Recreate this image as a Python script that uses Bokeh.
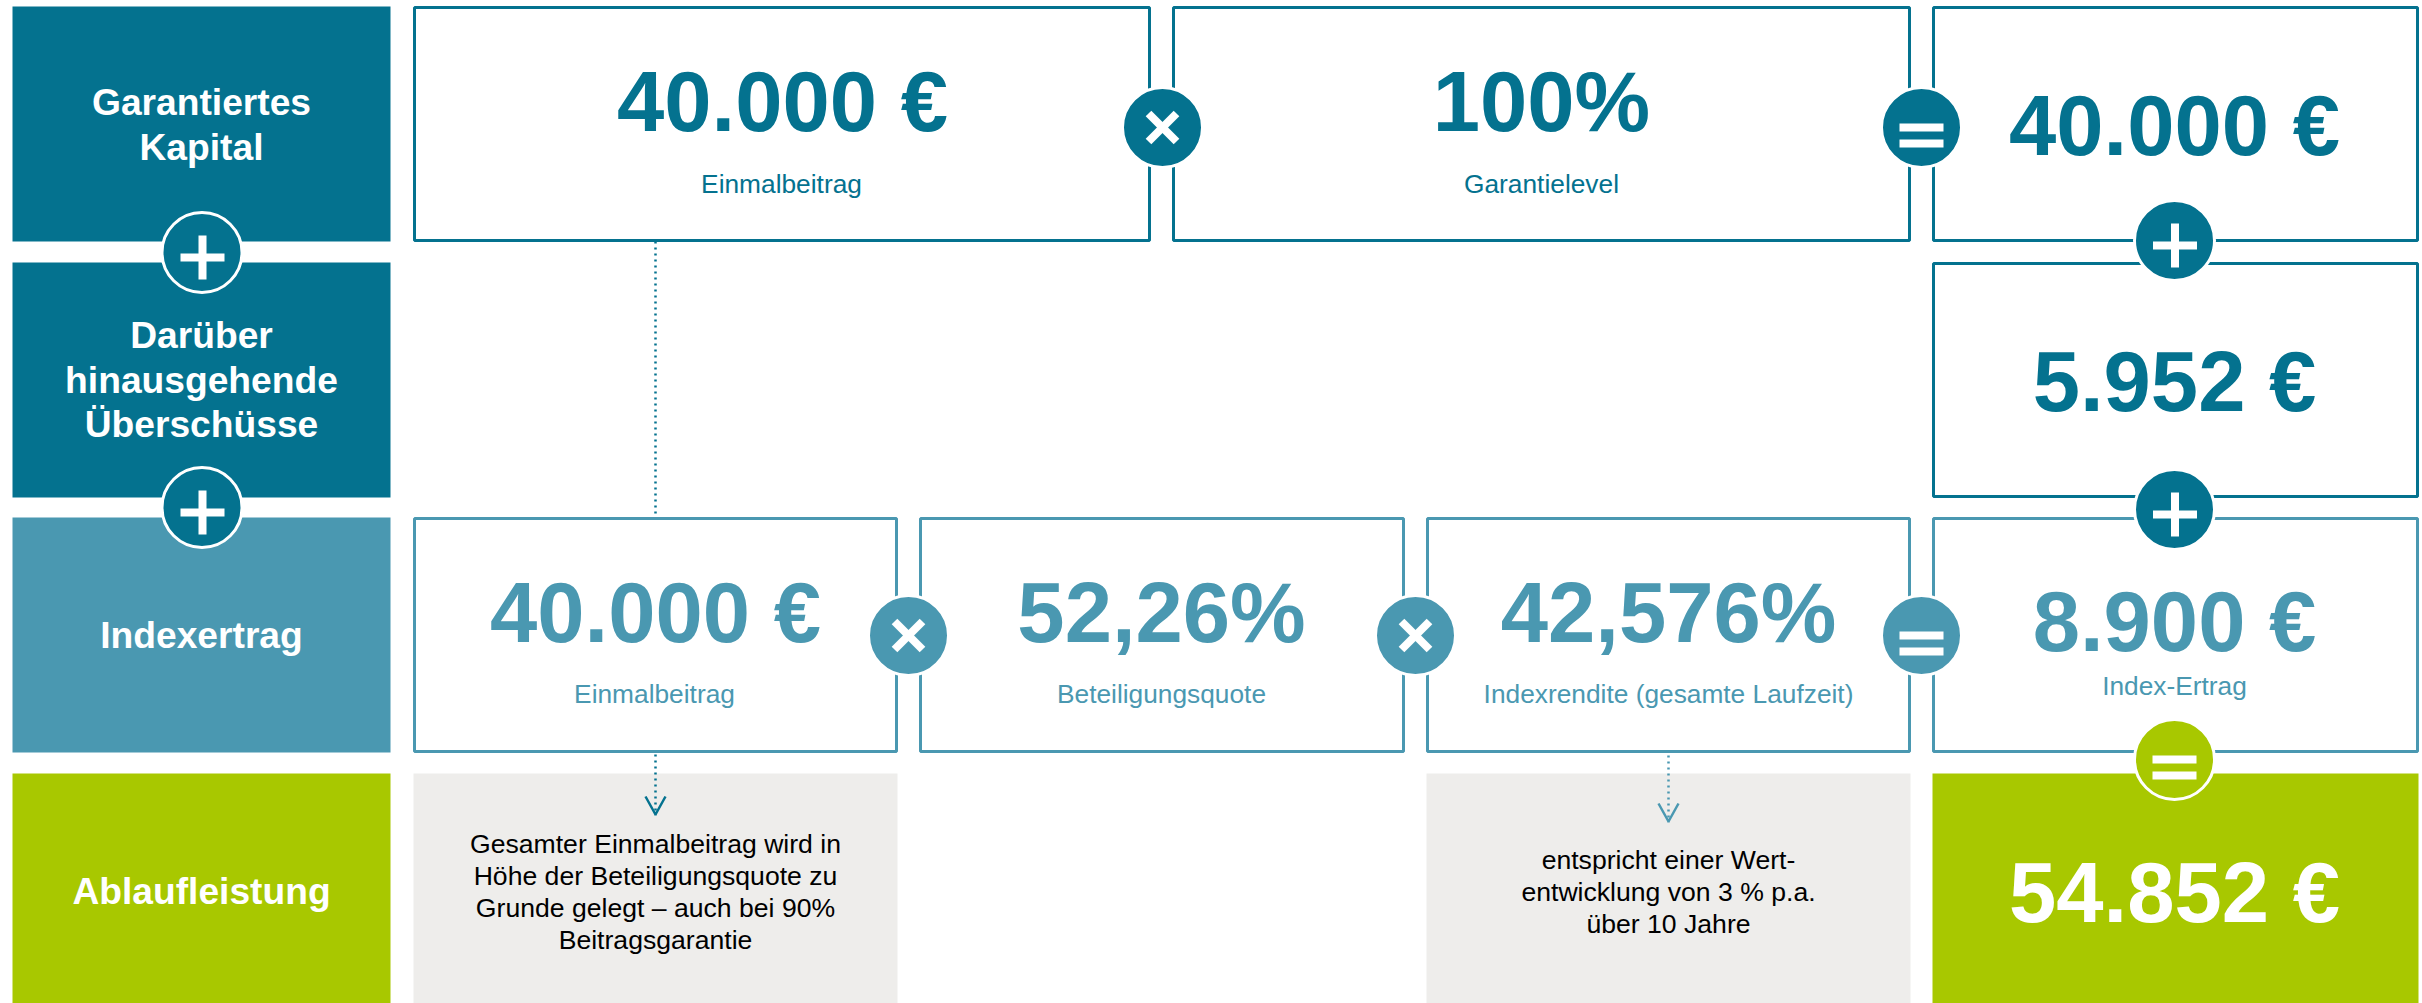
from bokeh.plotting import figure
from bokeh.models import Range1d
from bokeh.core.properties import value
from bokeh.embed import file_html
from bokeh.resources import INLINE

DARK = "#04728F"
MID = "#4A98B1"
GREEN = "#A8C800"
GRAY = "#EEEDEB"
FONT = "Liberation Sans"

# ---- texts of the diagram
head_labels = [["Garantiertes", "Kapital"], ["Darüber", "hinausgehende", "Überschüsse"], ["Indexertrag"], ["Ablaufleistung"]]
top_values = ["40.000 €", "100%", "40.000 €"]
top_captions = ["Einmalbeitrag", "Garantielevel"]
surplus_value = "5.952 €"
index_values = ["40.000 €", "52,26%", "42,576%", "8.900 €"]
index_captions = ["Einmalbeitrag", "Beteiligungsquote", "Indexrendite (gesamte Laufzeit)", "Index-Ertrag"]
note_left = ["Gesamter Einmalbeitrag wird in", "Höhe der Beteiligungsquote zu", "Grunde gelegt – auch bei 90%", "Beitragsgarantie"]
note_right = ["entspricht einer Wert-", "entwicklung von 3 % p.a.", "über 10 Jahre"]
result_value = "54.852 €"

# ---- layout grid (page pixels)
W, H = 2422, 1003
ROWS = [(6, 241), (262, 497), (517, 752), (773, 1003)]
HEAD = (12, 390)
TOP_COLS = [(413, 1150), (1172, 1910), (1932, 2418)]
IDX_COLS = [(413, 897), (919, 1404), (1426, 1910), (1932, 2418)]
RIGHT_X = 2174
BIG, CAPTION, NOTE, HEADING = 85, 26.3, 26.6, 37.2
BASELINE_FIX = 0.36

p = figure(width=W, height=H, output_backend="svg", toolbar_location=None,
           x_range=Range1d(0, W), y_range=Range1d(H, 0), min_border=0,
           background_fill_color="white", border_fill_color="white")
p.axis.visible = False
p.grid.visible = False
p.outline_line_color = None


def filled(x, row, color):
    p.quad(left=x[0], right=x[1], top=row[0], bottom=row[1], fill_color=color, line_color=None)


def framed(x, row, color):
    p.quad(left=x[0] + 1, right=x[1] - 1, top=row[0] + 1, bottom=row[1] - 1,
           fill_color="white", line_color=color, line_width=3)


def label(x, y, s, color, size, bold=False):
    p.text([x], [y - BASELINE_FIX * size], text=[s], text_color=color, text_font=value(FONT),
           text_font_size=f"{size}px", text_font_style="bold" if bold else "normal",
           text_align="center", text_baseline="alphabetic")


def disc(x, y, color, r=40, ring=3):
    p.circle([x], [y], radius=r, fill_color=color, line_color="white", line_width=ring)


def plus(x, y, color):
    disc(x, y, color)
    bx, by = x + 0.5, y + 5
    p.quad(left=bx - 22, right=bx + 22, top=by - 4, bottom=by + 4, fill_color="white", line_color=None)
    p.quad(left=bx - 4, right=bx + 4, top=by - 22, bottom=by + 22, fill_color="white", line_color=None)


def equals(x, y, color):
    disc(x, y, color)
    by = y + 8
    p.quad(left=x - 22, right=x + 22, top=by - 12, bottom=by - 4, fill_color="white", line_color=None)
    p.quad(left=x - 22, right=x + 22, top=by + 4, bottom=by + 12, fill_color="white", line_color=None)


def times(x, y, color):
    disc(x, y, color)
    p.segment([x - 14, x - 14], [y - 14, y + 14], [x + 14, x + 14], [y + 14, y - 14],
              line_color="white", line_width=8)


def connector(x, y0, y1, color):
    p.line([x, x], [y0, y1], line_color=color, line_width=2.5, line_dash="2 4")


def arrow(x, y0, tip, color):
    connector(x, y0, tip, color)
    p.line([x - 10, x, x + 10], [tip - 19, tip - 1, tip - 19], line_color=color, line_width=2.5)


# head column
for row, col in zip(ROWS, [DARK, DARK, MID, GREEN]):
    filled(HEAD, row, col)
hx = sum(HEAD) / 2
for ys, lines in zip([[115, 160], [348, 393, 437], [648], [904]], head_labels):
    for y, s in zip(ys, lines):
        label(hx, y, s, "white", HEADING, True)

# dashed connector between first and third row
connector(655, 241, 517, DARK)

# framed boxes
for c in TOP_COLS:
    framed(c, ROWS[0], DARK)
framed(TOP_COLS[2], ROWS[1], DARK)
for c in IDX_COLS:
    framed(c, ROWS[2], MID)

# notes and result
filled(IDX_COLS[0], ROWS[3], GRAY)
filled(IDX_COLS[2], ROWS[3], GRAY)
filled(IDX_COLS[3], ROWS[3], GREEN)

arrow(655, 754, 815, DARK)
arrow(1668, 755, 822, MID)

# first row
label(782, 132, top_values[0], DARK, BIG, True)
label(1541, 132, top_values[1], DARK, BIG, True)
label(RIGHT_X, 156, top_values[2], DARK, BIG, True)
label(781, 193, top_captions[0], DARK, CAPTION)
label(1541, 193, top_captions[1], DARK, CAPTION)

# second row
label(RIGHT_X, 412, surplus_value, DARK, BIG, True)

# third row
for x, y, s in zip([655, 1161, 1668, RIGHT_X], [643, 643, 643, 652], index_values):
    label(x, y, s, MID, BIG, True)
for x, y, s in zip([654, 1161, 1668, RIGHT_X], [703, 703, 703, 695], index_captions):
    label(x, y, s, MID, CAPTION)

# fourth row
for y, s in zip([853, 885, 917, 949], note_left):
    label(655, y, s, "black", NOTE)
for y, s in zip([869, 901, 933], note_right):
    label(1668, y, s, "black", NOTE)
label(RIGHT_X, 923, result_value, "white", BIG, True)

# operators
plus(201.5, 252, DARK)
plus(201.5, 507, DARK)
times(1162, 127, DARK)
equals(1921, 127, DARK)
plus(RIGHT_X, 240, DARK)
plus(RIGHT_X, 509, DARK)
times(908, 635, MID)
times(1415, 635, MID)
equals(1921, 635, MID)
equals(RIGHT_X, 759, GREEN)

open("out.html", "w").write(file_html(p, INLINE))
